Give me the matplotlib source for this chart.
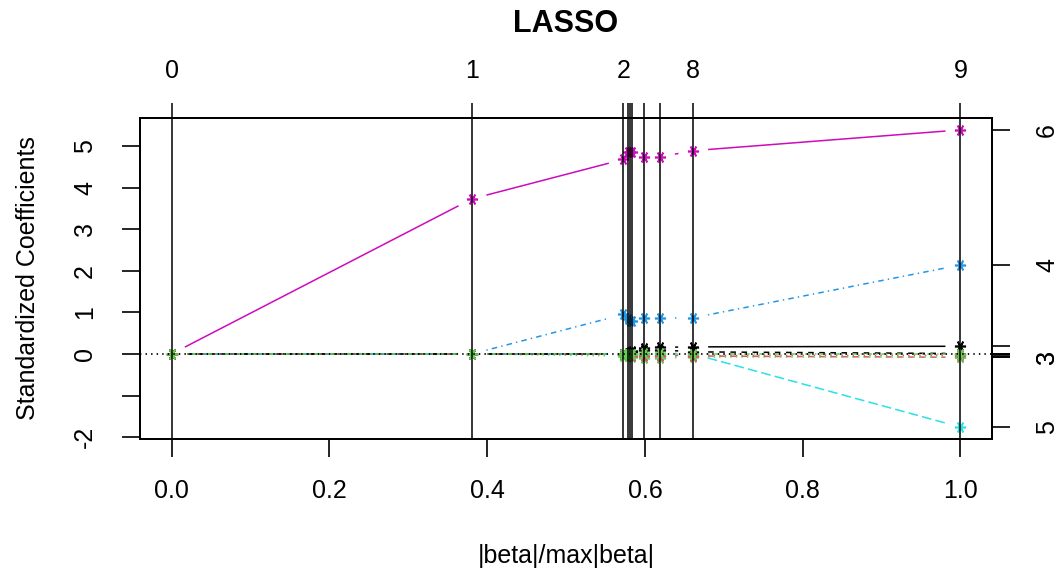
import numpy as np
import matplotlib
matplotlib.use('Agg')
import matplotlib.pyplot as plt

#! pasos del camino LASSO (|beta|/max|beta|)
pasos = [0.0, 0.3807, 0.5727, 0.5787, 0.5812, 0.5838, 0.5994, 0.6193, 0.6612, 1.0]
etiquetas_pasos = ['0', '1', '2', '', '', '', '', '', '8', '9']

#! coeficientes estandarizados por variable, en cada paso
coef_v1 = [0, 0, 0, 0, 0, 0.05, 0.15, 0.16, 0.17, 0.185]
coef_v2 = [0, 0, 0, 0, 0, 0, 0, -0.02, -0.05, -0.08]
coef_v3 = [0, 0, -0.05, -0.06, -0.06, -0.07, -0.10, -0.10, -0.08, -0.08]
coef_v4 = [0, 0, 0.95, 0.85, 0.80, 0.79, 0.87, 0.87, 0.87, 2.14]
coef_v5 = [0, 0, 0, 0, 0, 0, 0, 0, 0, -1.76]
coef_v6 = [0, 3.73, 4.68, 4.86, 4.86, 4.85, 4.74, 4.74, 4.89, 5.39]
coef_v7 = [0, 0, 0, 0.03, 0.05, 0.06, 0.10, 0.10, 0.05, 0.01]
coef_v8 = [0, 0, 0, 0, -0.03, -0.04, -0.05, -0.05, -0.04, -0.03]
coef_v9 = [0, 0, 0, 0, 0, 0, 0.02, 0.02, 0.01, 0.01]
etiquetas_der = ['', '', '3', '4', '5', '6', '', '', '']

y_ticks = [-2, -1, 0, 1, 2, 3, 4, 5]
y_etiquetas = ['-2', '', '0', '1', '2', '3', '4', '5']
x_ticks = [0.0, 0.2, 0.4, 0.6, 0.8, 1.0]


def linea_tipo_b(ax, x, y, color, dashes, hueco=15):
  #* imita type="b" de R: segmentos recortados alrededor de cada punto
  pts = ax.transData.transform(np.column_stack([x, y]))
  inv = ax.transData.inverted()
  for i in range(len(x) - 1):
    p0, p1 = pts[i], pts[i + 1]
    d = p1 - p0
    largo = np.hypot(*d)
    if largo <= 2 * hueco:
      continue
    u = d / largo
    a, b = inv.transform([p0 + u * hueco, p1 - u * hueco])
    ln, = ax.plot([a[0], b[0]], [a[1], b[1]], color=color, lw=1.1,
                  solid_capstyle='butt', dash_capstyle='butt', zorder=2)
    if dashes is not None:
      ln.set_dashes(dashes)


def main():
  plt.rcParams['font.family'] = ['Liberation Sans', 'DejaVu Sans']
  plt.rcParams['lines.scale_dashes'] = False
  tam = 18

  coefs = [coef_v1, coef_v2, coef_v3, coef_v4, coef_v5, coef_v6, coef_v7, coef_v8, coef_v9]
  #* paleta de R 4 y tipos de linea de matplot
  colores = ['black', '#DF536B', '#61D04F', '#2297E6', '#28E2E5', '#CD0BBC']
  tipos = [None, (4, 4), (1, 3), (1, 3, 4, 3), (7, 3)]

  fig = plt.figure(figsize=(10.62, 5.75), dpi=100)
  ax = fig.add_axes([140 / 1062, 1 - 439 / 575, 852 / 1062, 321 / 575])

  #* limites al estilo R (4% extra)
  xmin, xmax = min(pasos), max(pasos)
  ymin, ymax = min(min(c) for c in coefs), max(max(c) for c in coefs)
  ex, ey = 0.04 * (xmax - xmin), 0.04 * (ymax - ymin)
  ax.set_xlim(xmin - ex, xmax + ex)
  ax.set_ylim(ymin - ey, ymax + ey)

  #! caminos de coeficientes
  for j, c in enumerate(coefs):
    col = colores[j % 6]
    linea_tipo_b(ax, pasos, c, col, tipos[j % 5])
    ax.plot(pasos, c, linestyle='none', marker=(6, 2, 90), ms=8, mew=1.2,
            color=col, zorder=3)

  #* lineas verticales en cada paso y linea en cero
  for s in pasos:
    ax.axvline(s, color='black', lw=1.1, zorder=4)
  ax.axhline(0, color='black', lw=1.3, dashes=(1, 3), zorder=4)

  #* ejes
  for sp in ax.spines.values():
    sp.set_linewidth(1.2)
  ax.set_xticks(x_ticks)
  ax.set_xticklabels([f'{v:.1f}' for v in x_ticks])
  ax.set_yticks(y_ticks)
  ax.set_yticklabels(y_etiquetas, rotation=90, va='center')
  ax.tick_params(axis='x', length=13, width=1.2, labelsize=tam, pad=16)
  ax.tick_params(axis='y', length=13, width=1.2, labelsize=tam, pad=18)
  ax.set_ylabel('Standardized Coefficients', fontsize=tam, labelpad=24)

  #* titulo y etiqueta x en posiciones fijas de la figura
  fig.text(566 / 1062, 1 - 24 / 575, 'LASSO', fontsize=22, fontweight='bold',
           ha='center', va='center')
  fig.text(566 / 1062, 1 - 556 / 575, '|beta|/max|beta|', fontsize=tam,
           ha='center', va='center')

  #* eje superior con los pasos
  ax_sup = ax.twiny()
  ax_sup.set_xlim(ax.get_xlim())
  ax_sup.set_xticks(pasos)
  ax_sup.set_xticklabels(etiquetas_pasos)
  ax_sup.tick_params(axis='x', length=11, width=1.1, labelsize=tam, pad=14)

  #* eje derecho con el numero de variable
  ax_der = ax.twinx()
  ax_der.set_ylim(ax.get_ylim())
  finales = [c[-1] for c in coefs]
  ax_der.set_yticks(finales)
  ax_der.set_yticklabels(etiquetas_der, rotation=90, va='center')
  ax_der.tick_params(axis='y', length=13, width=1.2, labelsize=tam, pad=18)
  for a in (ax_sup, ax_der):
    for sp in a.spines.values():
      sp.set_linewidth(1.2)

  fig.savefig('out.png', dpi=100, facecolor='white')


if __name__ == "__main__":
  main()
